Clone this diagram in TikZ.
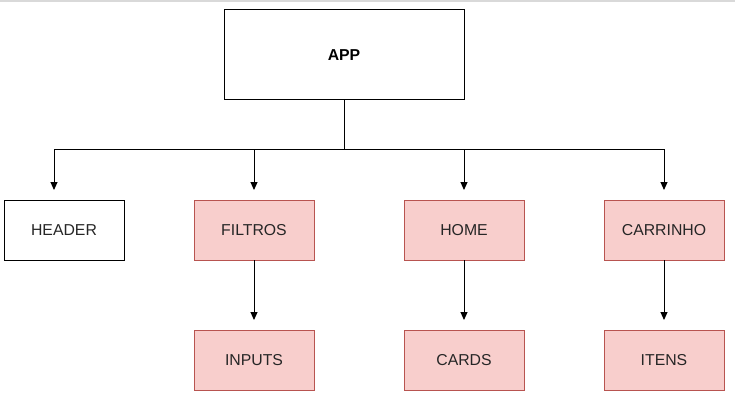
\documentclass[tikz,border=0pt]{standalone}
\usepackage{fontspec}
\setmainfont{Liberation Sans}
\usetikzlibrary{arrows.meta}
\definecolor{redfill}{HTML}{F8CECC}
\definecolor{redline}{HTML}{B85450}
\tikzset{
  x=1pt,y=-1pt,
  basebox/.style={draw=black,line width=1pt,outer sep=0pt,minimum width=120pt,minimum height=60pt,inner sep=0pt,anchor=north west,font=\fontsize{15.8}{18}\selectfont,text=black!85},
  whitebox/.style={basebox,fill=white},
  redbox/.style={basebox,draw=redline,fill=redfill},
  conn/.style={draw=black,line width=1pt},
  arr/.style={conn,shorten >=10pt,-{Triangle[length=8pt,width=7pt]}},
}
\begin{document}
\begin{tikzpicture}
\useasboundingbox (0,0) rectangle (735,406);
\fill[white] (0,0) rectangle (735,406);
\draw[black!15,line width=1.5pt] (0,1) -- (735,1);
\node[whitebox,minimum width=240pt,minimum height=90pt,font=\fontsize{15.8}{18}\selectfont\bfseries,text=black] (app) at (224,10) {APP};
\node[whitebox] (header) at (4,200) {HEADER};
\node[redbox] (filtros) at (194,200) {FILTROS};
\node[redbox] (home) at (404,200) {HOME};
\node[redbox] (carrinho) at (604,200) {CARRINHO};
\node[redbox] (inputs) at (194,330) {INPUTS};
\node[redbox] (cards) at (404,330) {CARDS};
\node[redbox] (itens) at (604,330) {ITENS};
\coordinate (j) at (app.south |- 0,150);
\coordinate (hin) at (54,200);
\draw[conn] (app.south) -- (j);
\draw[arr] (j) -| (hin);
\draw[arr] (j) -| (filtros.north);
\draw[arr] (j) -| (home.north);
\draw[arr] (j) -| (carrinho.north);
\draw[arr] (filtros) -- (inputs);
\draw[arr] (home) -- (cards);
\draw[arr] (carrinho) -- (itens);
\end{tikzpicture}
\end{document}
